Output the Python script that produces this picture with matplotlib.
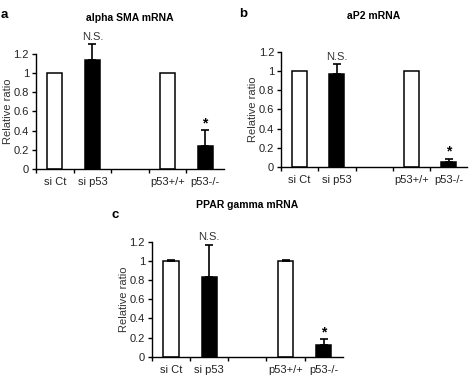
import matplotlib
matplotlib.use('Agg')
import matplotlib.pyplot as plt
import numpy as np

plt.rcParams['font.family'] = ['Liberation Sans', 'DejaVu Sans']

# data
categories = ['si Ct', 'si p53', '', 'p53+/+', 'p53-/-']
bar_fill = ['white', 'black', 'none', 'white', 'black']

titles = ['alpha SMA mRNA', 'aP2 mRNA', 'PPAR gamma mRNA']
letters = ['a', 'b', 'c']

sma_vals = [1.0, 1.135, np.nan, 1.0, 0.235]
sma_err = [0.0, 0.17, np.nan, 0.0, 0.17]
ap2_vals = [1.0, 0.965, np.nan, 1.0, 0.056]
ap2_err = [0.0, 0.11, np.nan, 0.0, 0.028]
ppar_vals = [1.0, 0.83, np.nan, 1.0, 0.12]
ppar_err = [0.006, 0.34, np.nan, 0.006, 0.06]

marks = ['', 'N.S.', '', '', '*']

yticks = [0, 0.2, 0.4, 0.6, 0.8, 1, 1.2]
ytick_labels = ['0', '0.2', '0.4', '0.6', '0.8', '1', '1.2']

fig = plt.figure(figsize=(4.7, 3.76), dpi=100)

# axes boxes in figure fractions [left, bottom, width, height]
boxes = [[0.0766, 0.5505, 0.40, 0.306],
         [0.598, 0.556, 0.396, 0.306],
         [0.3234, 0.0513, 0.406, 0.306]]
title_pads = [24, 24, 24]

panels = [(sma_vals, sma_err), (ap2_vals, ap2_err), (ppar_vals, ppar_err)]

for k in range(3):
    vals, errs = panels[k]
    ax = fig.add_axes(boxes[k])
    x = np.arange(len(categories)) + 0.5
    for i in range(len(categories)):
        if np.isnan(vals[i]):
            continue
        ax.bar(x[i], vals[i], width=0.4, color=bar_fill[i],
               edgecolor='black', linewidth=1.1, zorder=2)
        if errs[i] > 0:
            ax.errorbar(x[i], vals[i], yerr=[[0], [errs[i]]], fmt='none',
                        ecolor='black', elinewidth=1.2, capsize=3.2,
                        capthick=1.2, zorder=3, clip_on=False)
            if marks[i] == 'N.S.':
                ax.annotate('N.S.', (x[i], vals[i] + errs[i]),
                            xytext=(0, 1.5), textcoords='offset points',
                            ha='center', va='bottom', fontsize=8,
                            color='#333333', annotation_clip=False)
            elif marks[i] == '*':
                ax.annotate('*', (x[i], vals[i] + errs[i]),
                            xytext=(0, 0), textcoords='offset points',
                            ha='center', va='bottom', fontsize=10,
                            fontweight='bold', annotation_clip=False)

    ax.set_xlim(0, len(categories))
    ax.set_ylim(0, 1.2)
    ax.set_yticks(yticks)
    ax.set_yticklabels(ytick_labels, fontsize=8, color='#222222')
    ax.set_xticks([0, 1, 2, 3, 4])
    ax.set_xticklabels([])
    ax.set_xticks(x, minor=True)
    ax.set_xticklabels(categories, minor=True, fontsize=8, color='#222222')
    ax.tick_params(axis='x', which='major', length=3, width=1, direction='out')
    ax.tick_params(axis='x', which='minor', length=0, pad=6)
    ax.tick_params(axis='y', length=3, width=1, direction='out', pad=2)
    for s in ['top', 'right']:
        ax.spines[s].set_visible(False)
    for s in ['left', 'bottom']:
        ax.spines[s].set_linewidth(1.0)
    ax.set_ylabel('Relative ratio', fontsize=8, color='#333333', labelpad=0.5)
    ax.set_title(titles[k], fontsize=7.5, fontweight='bold', pad=title_pads[k])

fig.text(1 / 470, 1 - 18 / 376, letters[0], fontsize=9.5, fontweight='bold',
         ha='left', va='baseline')
fig.text(239 / 470, 1 - 17 / 376, letters[1], fontsize=9.5, fontweight='bold',
         ha='left', va='baseline')
fig.text(112 / 470, 1 - 218 / 376, letters[2], fontsize=9.5, fontweight='bold',
         ha='left', va='baseline')

fig.savefig('out.png', dpi=100)
